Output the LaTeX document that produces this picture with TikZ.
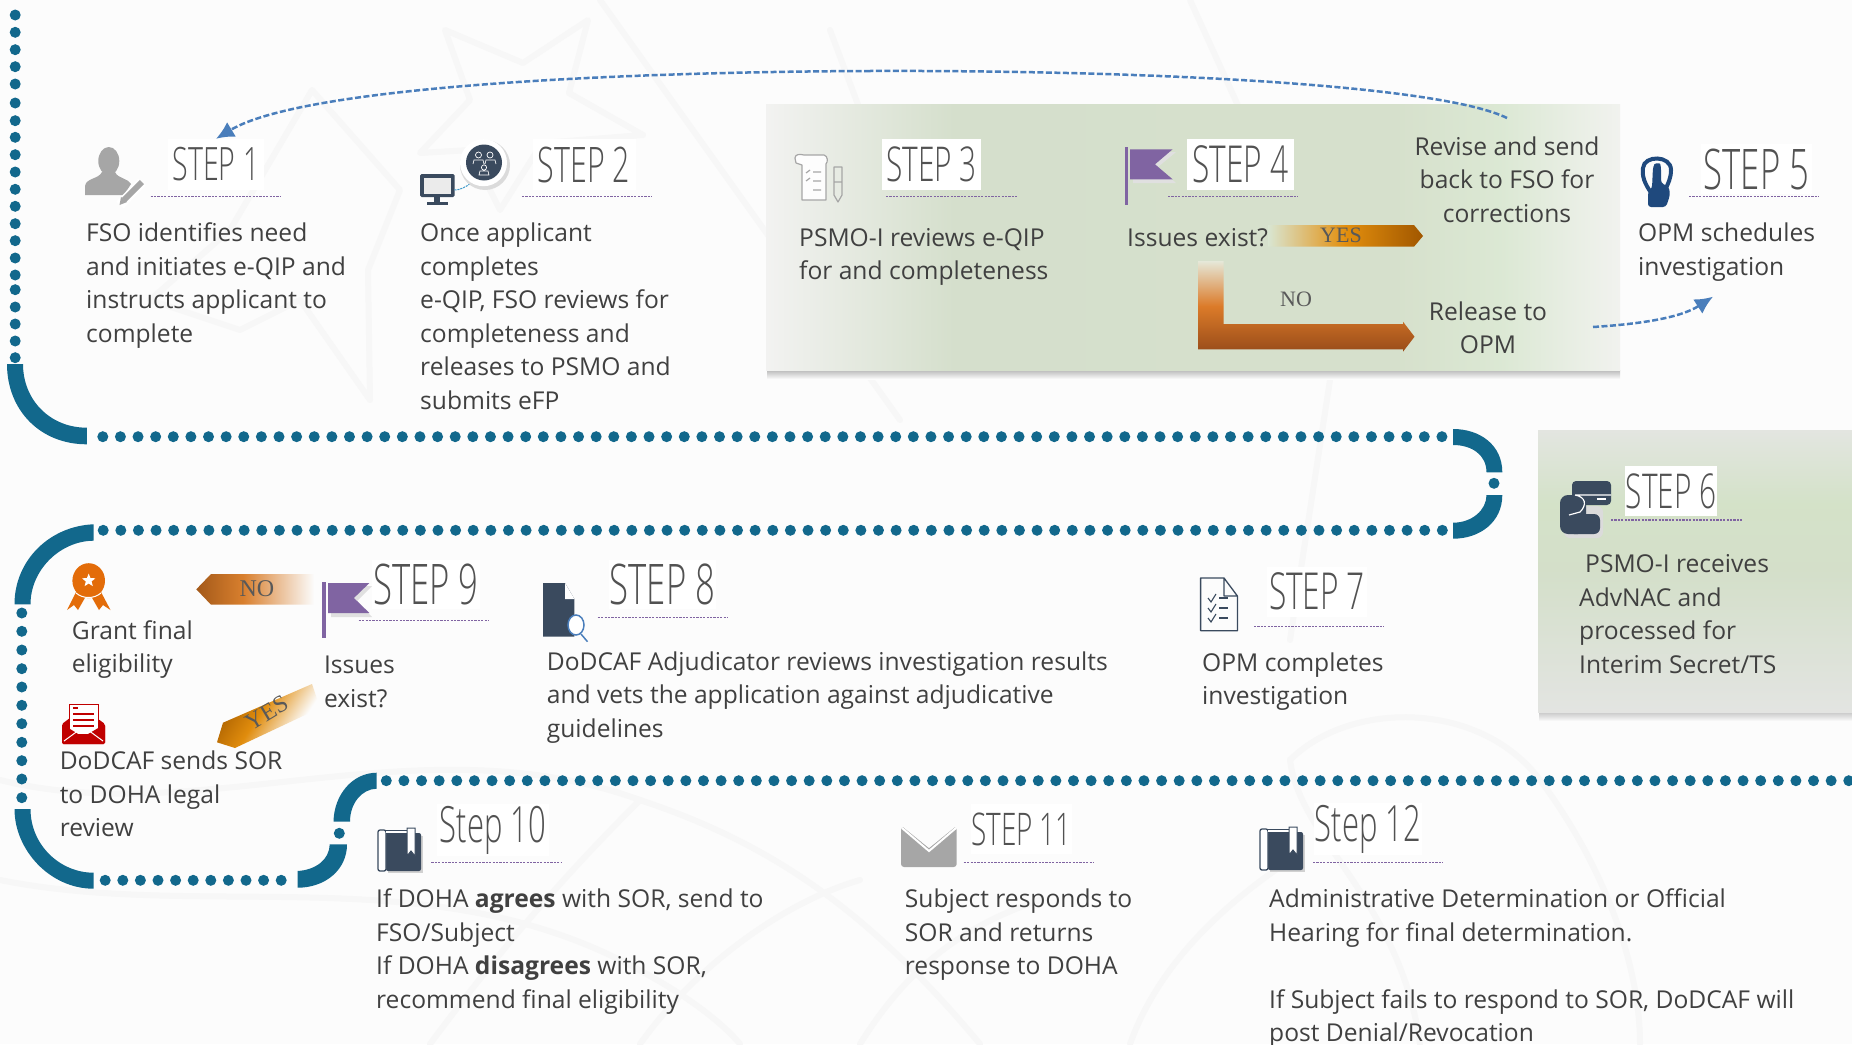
\documentclass[tikz,border=0pt]{standalone}
\usepackage{fontspec}
\usetikzlibrary{arrows.meta,shapes.geometric}
\setmainfont{Open Sans}
\newfontfamily\stepf[FakeStretch=0.62]{Open Sans Light}
\newfontfamily\lblf{Liberation Serif}
\definecolor{bgc}{HTML}{FCFCFC}
\definecolor{teal}{HTML}{12688C}
\definecolor{ink}{HTML}{404040}
\definecolor{dk}{HTML}{3A4A5E}
\definecolor{flag}{HTML}{8064A2}
\definecolor{arrowb}{HTML}{4A7EBB}
\definecolor{gr}{HTML}{A6A6A6}
\definecolor{wm}{HTML}{F7F7F7}
\definecolor{medal}{HTML}{E36C09}
\definecolor{redc}{HTML}{C00000}
\definecolor{handc}{HTML}{1F497D}
\pgfdeclarehorizontalshading{boxA}{100bp}{rgb(0bp)=(.95,.95,.945); rgb(25bp)=(.95,.95,.945); rgb(36bp)=(.835,.875,.80); rgb(62bp)=(.84,.88,.80); rgb(68bp)=(.86,.91,.83); rgb(75bp)=(.945,.95,.935); rgb(100bp)=(.945,.95,.935)}
\pgfdeclareverticalshading{boxB}{100bp}{rgb(0bp)=(.89,.895,.885); rgb(25bp)=(.89,.895,.885); rgb(50bp)=(.83,.875,.79); rgb(62bp)=(.83,.885,.785); rgb(75bp)=(.89,.90,.88); rgb(100bp)=(.89,.90,.88)}
\pgfdeclarehorizontalshading{yesA}{100bp}{rgb(0bp)=(.85,.90,.82); rgb(25bp)=(.85,.90,.82); rgb(50bp)=(.89,.56,.05); rgb(75bp)=(.63,.34,.0); rgb(100bp)=(.63,.34,.0)}
\pgfdeclarehorizontalshading{noB}{100bp}{rgb(0bp)=(.64,.35,.10); rgb(25bp)=(.64,.35,.10); rgb(45bp)=(.85,.50,.18); rgb(75bp)=(.988,.988,.988); rgb(100bp)=(.988,.988,.988)}
\pgfdeclarehorizontalshading{yesB}{100bp}{rgb(0bp)=(.66,.37,.0); rgb(25bp)=(.66,.37,.0); rgb(45bp)=(.88,.55,.05); rgb(68bp)=(.988,.988,.988); rgb(100bp)=(.988,.988,.988)}
\pgfdeclareverticalshading{noL}{100bp}{rgb(0bp)=(.60,.30,.10); rgb(25bp)=(.60,.30,.10); rgb(50bp)=(.86,.48,.16); rgb(75bp)=(.90,.91,.85); rgb(100bp)=(.90,.91,.85)}
\tikzset{
  dotc/.style={fill=teal},
  arcf/.style={fill=teal},
  txt/.style={anchor=north west,inner sep=0pt,align=left,text=ink,xshift=-1pt,yshift=22.5pt,font=\fontsize{24.6pt}{33.5pt}\selectfont},
  ctxt/.style={anchor=north,inner sep=0pt,align=center,text=ink,yshift=22.5pt,font=\fontsize{24.6pt}{33.5pt}\selectfont},
  stephd/.style={inner sep=0pt,text=black!68,font=\stepf\fontsize{#1pt}{#1pt}\selectfont},
  hdbox/.style 2 args={fill=white,minimum width=#1pt,minimum height=#2pt},
  hrule/.style={flag,line width=1.1pt,dash pattern=on 2.2pt off 1.2pt},
  dashline/.style={arrowb,line width=2.5pt,dash pattern=on 6pt off 2.5pt},
  dasharrow/.style={dashline,-{Latex[length=18pt,width=17pt]}},
  lbl/.style={inner sep=0pt,text=black!65,font=\lblf\fontsize{#1pt}{#1pt}\selectfont},
  wmark/.style={wm,line width=6pt,line join=round,line cap=round},
  icl/.style={line width=1.2pt,line join=round},
}
\newcommand{\bookicn}[2]{%
  \begin{scope}[shift={(#1,#2)}]
    \fill[black!18] (10,8) rectangle (45,45);
    \fill[dk,rounded corners=2] (8,5) rectangle (43,43);
    \draw[dk,line width=1.3pt,fill=white,rounded corners=2] (0,2) rectangle (8,43);
    \draw[dk,line width=1pt,fill=white] (8,2) -- (29,2) -- (29,5) -- (8,5);
    \draw[dk,line width=1pt,fill=white] (29,0) -- (37,0) -- (37,28) -- (33,23) -- (29,28) -- cycle;
  \end{scope}}
\begin{document}
\begin{tikzpicture}[x=1pt,y=-1pt]
\useasboundingbox (0,0) rectangle (1852,1044);
\clip (0,0) rectangle (1852,1044);
\fill[bgc] (0,0) rectangle (1852,1044);
% faint watermark
\draw[wmark] (445,30) -- (523,63) -- (588,20) -- (569,93) -- (643,135) -- (542,143) -- (500,210) -- (470,150) -- (420,153) -- (470,100) -- cycle;
\draw[wmark] (312,90) -- (400,190) -- (368,270) -- (370,400) -- (300,300) -- (240,330) -- (150,300) -- (230,230) -- cycle;
\draw[wmark] (600,0) -- (900,420);
\draw[wmark] (830,30) -- (860,110);
\draw[wmark] (1190,0) -- (1240,110);
\draw[wmark] (1330,380) -- (1290,640);
\draw[wmark] (0,780) .. controls (200,830) and (420,720) .. (640,800) .. controls (760,840) and (860,900) .. (980,1044);
\draw[wmark] (0,880) .. controls (200,920) and (420,860) .. (620,960) .. controls (680,990) and (720,1020) .. (740,1044);
\draw[wmark] (430,1044) .. controls (500,950) and (560,880) .. (640,800);
\draw[wmark] (640,1044) .. controls (700,960) and (790,900) .. (860,880);
\draw[wmark] (860,1044) .. controls (900,980) and (950,930) .. (1040,900);
\draw[wmark] (1290,760) .. controls (1350,700) and (1480,700) .. (1540,780) .. controls (1600,860) and (1640,960) .. (1640,1044);
\draw[wmark] (1290,760) .. controls (1300,840) and (1400,900) .. (1420,1044);
\draw[wmark] (1130,1044) .. controls (1160,960) and (1230,900) .. (1290,860);
% panels
\shade[top color=black!27,bottom color=bgc] (767,370) rectangle (1620,379);
\shade[top color=black!22,bottom color=bgc] (1539,712) rectangle (1852,721);
\shade[shading=boxA] (766,104) rectangle (1620,370);
\shade[shading=boxB] (1538,430) rectangle (1852,712.7);
% dotted track
\foreach \y in {15,32.3,49.7,66.7,84,103,120.7,137.3,154.7,172,189.3,206.3,223.7,240.7,258,275,289.7,307,324,341,357.7} \fill[dotc] (15.2,\y) circle (5.5);
\fill[arcf] (7,364) .. controls (7,410) and (40,444.3) .. (86.8,444.3) -- (86.8,427.7) .. controls (50,427.7) and (23,400) .. (23,364) -- cycle;
\foreach \i in {0,...,76} \fill[dotc] ({102.8+\i*17.62},436.7) circle (5.5);
\fill[arcf] (1453,429) .. controls (1480,429) and (1502.3,445) .. (1502.3,472.3) -- (1486.5,472.3) .. controls (1486.5,455) and (1472,445) .. (1453,445) -- cycle;
\fill[dotc] (1494,483.3) circle (5.5);
\fill[arcf] (1486.5,495) .. controls (1486.5,510) and (1472,522.7) .. (1453,522.7) -- (1453,538.7) .. controls (1480,538.7) and (1502.3,522) .. (1502.3,495) -- cycle;
\foreach \i in {0,...,76} \fill[dotc] ({103.2+\i*17.62},530.3) circle (5.5);
\fill[arcf] (93.5,524.3) .. controls (50,526) and (14.5,560) .. (14.5,604.3) -- (30.5,604.3) .. controls (30.5,570) and (60,541) .. (93.5,540.7) -- cycle;
\foreach \y in {613,631.3,650,668.7,687,705.3,723.7,742.3,760.7,779,797.7} \fill[dotc] (21.8,\y) circle (5.5);
\fill[arcf] (14.5,809) .. controls (14.5,850) and (50,888.7) .. (93.5,888.7) -- (93.5,872.7) .. controls (60,872.7) and (30.5,845) .. (30.5,809) -- cycle;
\foreach \i in {0,...,10} \fill[dotc] ({105.2+\i*17.6},880.3) circle (5.5);
\fill[arcf] (297.6,871) .. controls (315,870) and (329.6,860) .. (329.6,844.3) -- (347,844.3) .. controls (347,870) and (325,887.7) .. (297.6,887.7) -- cycle;
\fill[dotc] (339.3,833.3) circle (5.5);
\fill[arcf] (333.5,821.7) .. controls (334,795) and (352,773) .. (376.6,772.7) -- (376.6,788.7) .. controls (362,789) and (350,803) .. (350,821.7) -- cycle;
\foreach \i in {0,...,84} \fill[dotc] ({386.3+\i*17.62},780.7) circle (5.5);
% step headings
\node[stephd=46,hdbox={96}{51}] (s1) at (216,164.5) {STEP 1};
\node[stephd=49,hdbox={103}{51}] (s2) at (584,164.5) {STEP 2};
\node[stephd=48,hdbox={99}{51}] (s3) at (931.5,164.5) {STEP 3};
\node[stephd=51,hdbox={107}{51}] (s4) at (1240.5,164.5) {STEP 4};
\node[stephd=56,hdbox={111}{50}] (s5) at (1756.5,169) {STEP 5};
\node[stephd=48,hdbox={92}{50}] (s6) at (1671,491) {STEP 6};
\node[stephd=51,hdbox={100}{50}] (s7) at (1317,591.5) {STEP 7};
\node[stephd=56,hdbox={107}{49}] (s8) at (662.5,584) {STEP 8};
\node[stephd=56,hdbox={108}{49}] (s9) at (426,584) {STEP 9};
\node[stephd=50,hdbox={112}{52}] (s10) at (493,830) {Step 10};
\node[stephd=45,hdbox={100}{50}] (s11) at (1021.5,829) {STEP 11};
\node[stephd=50,hdbox={108}{52}] (s12) at (1368,829) {Step 12};
\draw[hrule] (150.6,196.7) -- (280,196.7);
\draw[hrule] (522,196.7) -- (652,196.7);
\draw[hrule] (886,196.7) -- (1016.6,196.7);
\draw[hrule] (1168,196.7) -- (1298,196.7);
\draw[hrule] (1689,196.7) -- (1819,196.7);
\draw[hrule] (1611,520) -- (1741.5,520);
\draw[hrule] (1254,626.7) -- (1383.6,626.7);
\draw[hrule] (597.7,617.7) -- (727,617.7);
\draw[hrule] (358.7,620.7) -- (488,620.7);
\draw[hrule] (431.4,862.3) -- (561,862.3);
\draw[hrule] (963.7,862.7) -- (1093.8,862.7);
\draw[hrule] (1313,862.7) -- (1443,862.7);
% body text
\node[txt] (t1) at (87,240.7) {\strut FSO identifies need\\and initiates e-QIP and\\instructs applicant to\\complete};
\node[txt] (t2) at (421,240.7) {\strut Once applicant\\completes\\e-QIP, FSO reviews for\\completeness and\\releases to PSMO and\\submits eFP};
\node[txt] (t3) at (800,245) {\strut PSMO-I reviews e-QIP\\for and completeness};
\node[txt] (t4) at (1128,245) {\strut Issues exist?};
\node[ctxt] (revise) at (1507,154) {\strut Revise and send\\back to FSO for\\corrections};
\node[ctxt] (release) at (1488,319.3) {\strut Release to\\OPM};
\node[txt] (t5) at (1639,240.7) {\strut OPM schedules\\investigation};
\node[txt] (t6) at (1580,571.7) {\strut\hspace{6pt}PSMO-I receives\\AdvNAC and\\processed for\\Interim Secret/TS};
\node[txt] (t7) at (1203,670) {\strut OPM completes\\investigation};
\node[txt] (t8) at (547.7,669.3) {\strut DoDCAF Adjudicator reviews investigation results\\and vets the application against adjudicative\\guidelines};
\node[txt] (t9) at (324.8,672.7) {\strut Issues\\exist?};
\node[txt] (tg) at (72.7,638) {\strut Grant final\\eligibility};
\node[txt] (td) at (60.6,768.7) {\strut DoDCAF sends SOR\\to DOHA legal\\review};
\node[txt] (t10) at (377,906.7) {\strut If DOHA \textbf{agrees} with SOR, send to\\FSO/Subject\\If DOHA \textbf{disagrees} with SOR,\\recommend final eligibility};
\node[txt] (t11) at (905.7,906.7) {\strut Subject responds to\\SOR and returns\\response to DOHA};
\node[txt] (t12) at (1270,906.7) {\strut Administrative Determination or Official\\Hearing for final determination.\\[33.5pt]If Subject fails to respond to SOR, DoDCAF will\\post Denial/Revocation};
% YES / NO arrows
\shade[shading=yesA] (1268,225) -- (1414,225) -- (1423,236) -- (1414,246.7) -- (1268,246.7) -- cycle;
\node[lbl=22] (yes4) at (1341,235.5) {YES};
\shade[shading=noL] (1198,261) -- (1223.7,261) -- (1223.7,324) -- (1403,324) -- (1403,321.7) -- (1414.5,336.7) -- (1403,351.7) -- (1403,349.3) -- (1198,349.3) -- cycle;
\node[lbl=22] (no4) at (1296,299.5) {NO};
\shade[shading=noB] (196.3,589.3) -- (211,574) -- (314,574) -- (314,604.7) -- (211,604.7) -- cycle;
\node[lbl=24] (no9) at (257,589) {NO};
\shade[shading=yesB,shading angle=-33] (312,684) -- (223,722.7) -- (217,742.3) -- (235,748) -- (320,708) -- cycle;
\node[lbl=24,rotate=31] (yes9) at (266.6,713) {YES};
% dashed connectors
\coordinate (reviseTop) at (1507,118);
\coordinate (curveTop) at (870,71);
\coordinate (relOut) at (1593,327);
\coordinate (s5in) at (1713,296.7);
\draw[dashline] (reviseTop) .. controls (1440,85) and (1150,70) .. (curveTop);
\draw[dasharrow] (curveTop) .. controls (600,72) and (300,88) .. (s1.north);
\draw[dasharrow] (relOut) .. controls (1640,324) and (1680,318) .. (s5in);
% flags
\fill[black!12] (1133,152) -- (1176,152) -- (1158,167) -- (1176,183) -- (1133,183) -- cycle;
\fill[flag] (1125,147) rectangle (1128,205);
\fill[flag] (1130,149.3) -- (1172.6,149.3) -- (1155,164.3) -- (1172.6,179.3) -- (1130,179.3) -- cycle;
\fill[flag] (322.4,581.7) rectangle (325.7,638);
\fill[black!12] (331,586) -- (372,586) -- (357,601) -- (372,617) -- (331,617) -- cycle;
\fill[flag] (328,583) -- (369.4,583) -- (353.9,598) -- (369.4,613) -- (328,613) -- cycle;
% icon step 1
\fill[gr] (108.8,161) ellipse (10.5 and 14);
\fill[gr] (85,195) -- (85,186) .. controls (86,178) and (99,179) .. (102,172) -- (115,172) .. controls (118,179) and (128,178) .. (131,184) -- (124,195) -- cycle;
\draw[white,line width=10pt] (120,205) -- (142,182);
\draw[gr,line width=6pt] (124,200) -- (142,182);
\fill[gr] (119.5,205) -- (121,197) -- (127,202) -- cycle;
% icon step 2
\fill[dk,rounded corners=1.5] (420,174) rectangle (454.5,197);
\fill[white!92!black] (424,178) rectangle (450.5,193.5);
\fill[dk] (434,197) rectangle (440,202);
\fill[dk] (427,202) rectangle (448,205);
\draw[arrowb!80!cyan,line width=1pt,dash pattern=on 2pt off 1pt] (454.5,190) .. controls (460,190) and (466,187) .. (471,183);
\fill[black!14] (485,165) circle (25);
\fill[white] (483.5,162.7) circle (23.5);
\fill[dk] (484,162.5) circle (18);
\draw[white,line width=.7pt] (478.5,155) circle (3) (490,155) circle (3) (484,167.5) circle (2.6) (473,164) -- (474,160) -- (483,160) -- (484,164) (485,164) -- (486,160) -- (495,160) -- (496,164) (479,175) -- (480,171) -- (488,171) -- (489,175) -- cycle;
% icon step 3
\draw[gr,icl,fill=white!40!bgc] (795,158) .. controls (795,154) and (800,154) .. (804,155) -- (824,155) .. controls (828,156) and (828,162) .. (826,164) -- (826,200) -- (802,200) -- (802,165) -- (796,163) -- cycle;
\draw[gr,icl] (806,173) -- (810,170) (813,172) -- (821,172) (806,181) -- (810,178) (813,181) -- (821,181) (813,190) -- (821,190);
\draw[gr,icl] (834,167) -- (842,167) -- (842,195) -- (838,202) -- (834,195) -- cycle (834,182) -- (842,182);
% icon step 5
\draw[handc,line width=4pt] (1652,194) .. controls (1644,183) and (1642,176) .. (1643,168) .. controls (1644,155) and (1671,155) .. (1671,170) .. controls (1671,178) and (1668,184) .. (1665,190);
\fill[handc,rounded corners=3] (1648,207) -- (1648,192) -- (1652,188) -- (1653,167) .. controls (1655,163) and (1660,163) .. (1661,167) -- (1661,183) -- (1669,187) -- (1670,195) -- (1666,207) -- cycle;
% icon step 6
\fill[black!14,rounded corners=6] (1564,506) rectangle (1603,538);
\fill[dk,rounded corners=4] (1572,481) rectangle (1611,505);
\fill[dk,rounded corners=8] (1560,495) rectangle (1586,534);
\fill[dk,rounded corners=6] (1568,514) rectangle (1600,534);
\draw[white,line width=1.2pt] (1569,515) -- (1580,512) .. controls (1587,505) and (1586,497) .. (1575,495) (1575,495) -- (1611,495);
\fill[white] (1597,497.5) rectangle (1606,499.5);
% icon step 7
\draw[dk,line width=1.3pt,line join=round] (1200.6,578) -- (1224,578) -- (1237.4,596) -- (1237.4,630.7) -- (1200.6,630.7) -- cycle (1224,578) -- (1224,596) -- (1237.4,596);
\foreach \y in {598,608,618} {
  \draw[dk,line width=1.1pt] (1208,\y) -- (1211,{\y+4}) -- (1216,{\y-4});
  \draw[dk,line width=1.1pt] (1219,\y) -- (1228,\y);
}
% icon step 8
\fill[dk] (543,583) -- (565,583) -- (574.4,599) -- (574.4,636.7) -- (543,636.7) -- cycle;
\fill[white] (565,583) -- (574.4,599) -- (565,599) -- cycle;
\draw[arrowb,line width=1.5pt,fill=white] (576,625) ellipse (8 and 10);
\draw[arrowb,line width=1.5pt] (581,634) -- (587.5,641.7);
% medal
\fill[medal] (76,592) -- (67,610) -- (74,605) -- (78,610) -- (86,596) -- cycle;
\fill[medal] (101,592) -- (110.5,610) -- (103,605) -- (99,610) -- (91,596) -- cycle;
\fill[medal] (88.7,580.7) ellipse (16.3 and 17.5);
\draw[white,line width=1pt] (76,593) .. controls (83,599) and (94,599) .. (101,593);
\node[star,star points=5,star point ratio=2.3,fill=white,inner sep=0pt,minimum size=14pt] (medalstar) at (88.7,580.5) {};
% red envelope
\fill[redc,rounded corners=1.5] (62,724) -- (83,708) -- (105,724) -- (105,744) -- (62,744) -- cycle;
\draw[redc,line width=1pt,fill=white] (69,704) rectangle (98,734);
\draw[redc,line width=1.3pt] (73,708) -- (78,708) (73,714) -- (94,714) (73,720) -- (94,720) (73,726) -- (94,726);
\fill[redc,rounded corners=1.5] (62,724) -- (83,737) -- (105,724) -- (105,744) -- (62,744) -- cycle;
\draw[white,line width=1pt] (64,741) -- (79,730) -- (88,730) -- (103,741);
% books and envelope
\bookicn{378}{828}
\bookicn{1260}{827}
\fill[gr,rounded corners=3] (901,827) rectangle (956.7,867);
\fill[bgc] (903,827) -- (929,848) -- (955,827) -- cycle;
\draw[white,line width=2pt] (902,828) -- (929,851) -- (956,828);
\end{tikzpicture}
\end{document}
